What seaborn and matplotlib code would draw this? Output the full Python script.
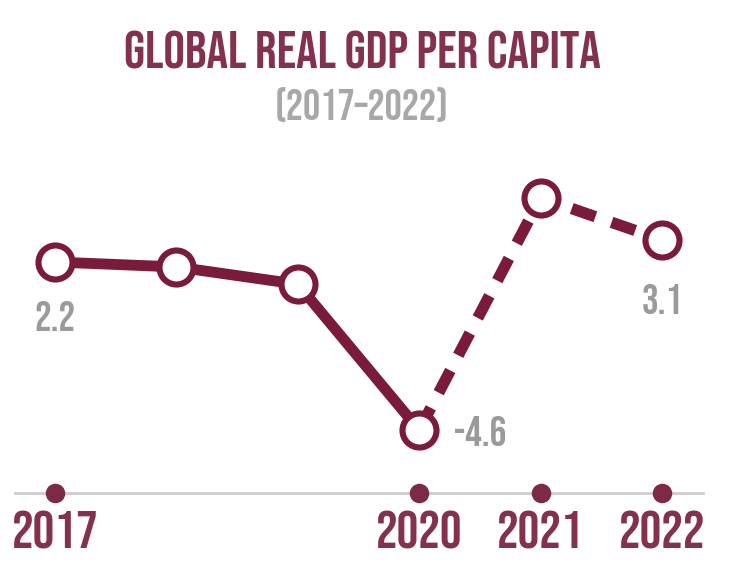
import matplotlib
matplotlib.use("Agg")
import matplotlib.pyplot as plt
import seaborn as sns
import pandas as pd

years = [2017, 2018, 2019, 2020, 2021, 2022]
gdp = [2.2, 2.0, 1.3, -4.6, 4.8, 3.1]
tick_years = [2017, 2020, 2021, 2022]
tick_labels = ["2017", "2020", "2021", "2022"]

sns.set_style("white")
plt.rcParams['font.family'] = ['Bebas Neue', 'DejaVu Sans']

MAROON = "#7a1a3c"
TITLE_C = "#84304f"
GRAY = "#9a9a9a"

df = pd.DataFrame({"year": years, "gdp": gdp})
solid = df[df.year <= 2020]
dashed = df[df.year >= 2020]

fig = plt.figure(figsize=(7.43, 5.77), dpi=100)
ax = fig.add_axes([0, (577 - 493) / 577, 1, 493 / 577])

px_per_year = (662 - 55) / 5
ax.set_xlim(2017 - 55 / px_per_year, 2022 + (743 - 662) / px_per_year)
px_per_unit = (430 - 262) / (2.2 + 4.6)
ax.set_ylim(2.2 - (493 - 262) / px_per_unit, 2.2 + 262 / px_per_unit)

sns.lineplot(data=solid, x="year", y="gdp", ax=ax, color=MAROON,
             linewidth=7.8, solid_capstyle="butt", zorder=2)
sns.lineplot(data=dashed, x="year", y="gdp", ax=ax, color=MAROON,
             linewidth=8.2, dashes=False, zorder=2)
ax.lines[-1].set_dashes((2.2, 1.5))
sns.scatterplot(data=df, x="year", y="gdp", ax=ax, s=600, marker="o",
                facecolor="white", edgecolor=MAROON, linewidth=4.4, zorder=3)

# value labels
ax.text(2017, 2.2 - 54 / px_per_unit, "2.2", color=GRAY,
        fontsize=30, ha="center", va="center")
ax.text(2020 + 35 / px_per_year, -4.6 - 1 / px_per_unit, "-4.6", color=GRAY,
        fontsize=30, ha="left", va="center")
ax.text(2022, 3.1 - 59 / px_per_unit, "3.1", color=GRAY,
        fontsize=30, ha="center", va="center")

# baseline
for s in ["top", "right", "left"]:
    ax.spines[s].set_visible(False)
ax.spines["bottom"].set_color("#d0cccc")
ax.spines["bottom"].set_linewidth(2)
ax.spines["bottom"].set_bounds(2017 - 40 / px_per_year, 2022 + 41 / px_per_year)
ax.set_yticks([])
ax.set_xticks(tick_years)
ax.set_xticklabels(tick_labels, fontsize=39, color=TITLE_C)
ax.tick_params(axis="x", length=0, pad=13)
ax.set_xlabel("")
ax.set_ylabel("")
ymin = ax.get_ylim()[0]
ax.scatter(tick_years, [ymin] * len(tick_years), s=170, color="#7d2a48",
           zorder=4, clip_on=False)

fig.text(362 / 743, 1 - 50 / 577, "GLOBAL REAL GDP PER CAPITA", color=TITLE_C,
         fontsize=38.5, ha="center", va="center")
fig.text(362 / 743, 1 - 104 / 577, "(2017\u20132022)", color="#a8a8a8",
         fontsize=31, ha="center", va="center")

fig.savefig("out.png", dpi=100)
